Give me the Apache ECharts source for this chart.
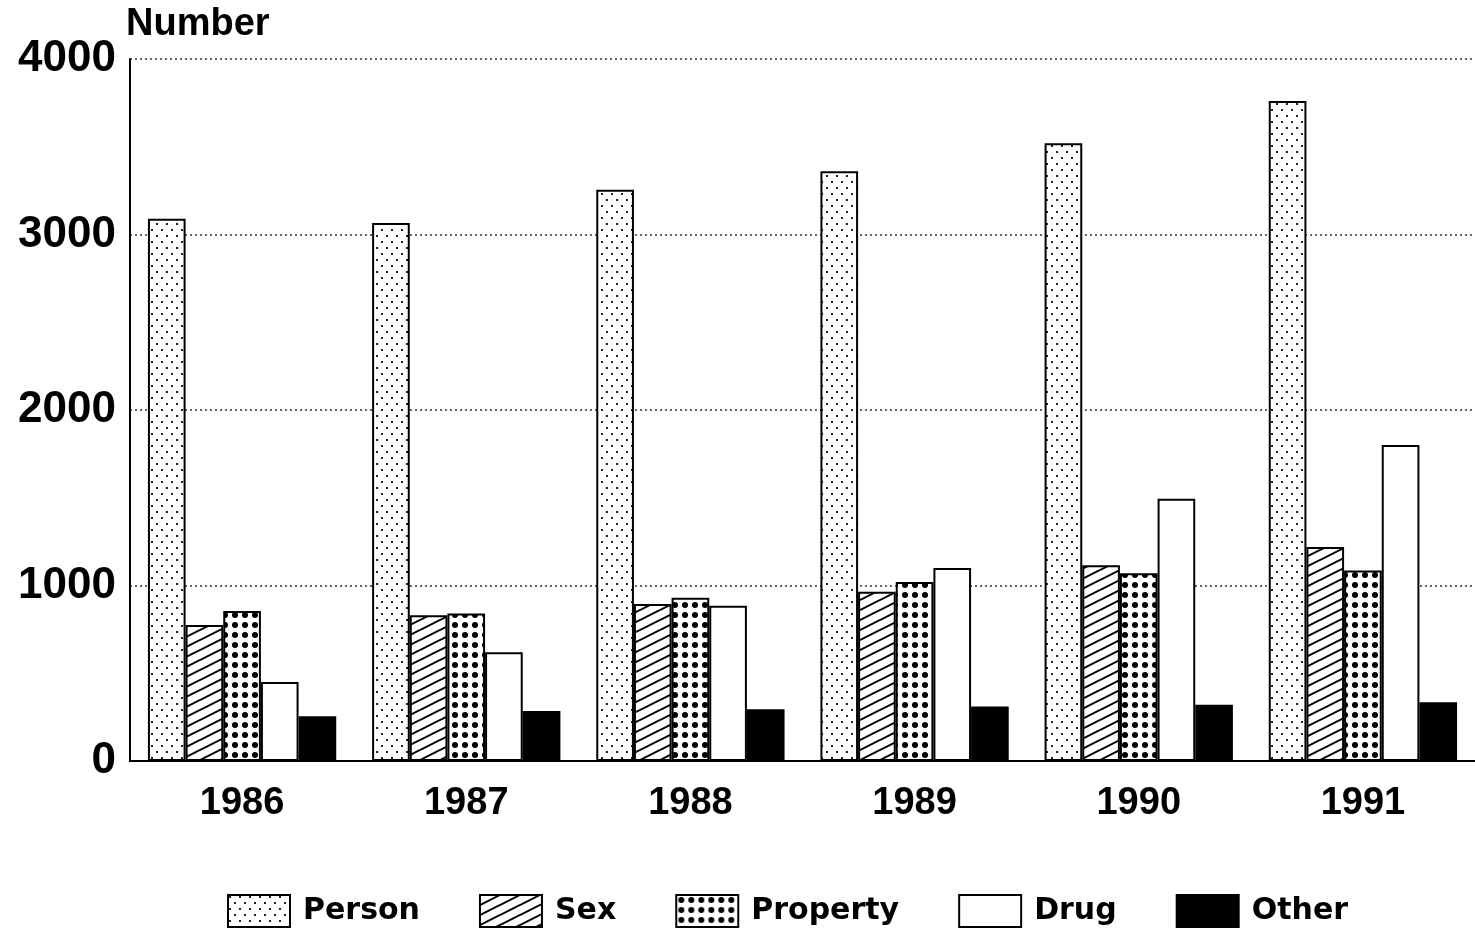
<!DOCTYPE html>
<html><head><meta charset="utf-8">
<script src="https://cdn.jsdelivr.net/npm/echarts@6/dist/echarts.min.js"></script>
<style>html,body{margin:0;padding:0;background:#fff}#c{width:1475px;height:933px}</style>
</head><body><div id="c"></div>
<script>
const categories = ['1986','1987','1988','1989','1990','1991'];
const person   = [3090, 3065, 3255, 3360, 3520, 3760];
const sex      = [775, 830, 895, 965, 1115, 1220];
const property = [855, 840, 930, 1020, 1070, 1085];
const drug     = [450, 620, 885, 1100, 1495, 1800];
const other    = [255, 285, 295, 310, 320, 335];
const seriesNames = ['Person','Sex','Property','Drug','Other'];
const yTicks = [0, 1000, 2000, 3000, 4000];

function tile(w, h, draw) {
  const c = document.createElement('canvas'); c.width = w; c.height = h;
  const g = c.getContext('2d'); g.fillStyle = '#fff'; g.fillRect(0,0,w,h);
  draw(g); return c;
}
const personPat = tile(10, 12, g => {
  g.fillStyle = '#222';
  g.fillRect(1,1,2,2); g.fillRect(6,7,2,2);
});
const sexPat = tile(20, 10, g => {
  g.strokeStyle = '#000'; g.lineWidth = 2;
  for (const k of [0,1,2]) { g.beginPath(); g.moveTo(-2, 10*k + 1); g.lineTo(22, 10*k - 11); g.stroke(); }
});
const propPat = tile(10, 10, g => {
  g.fillStyle = '#000'; g.beginPath(); g.arc(5,5,3,0,Math.PI*2); g.fill();
});
const fills = [
  {image: personPat, repeat: 'repeat'},
  {image: sexPat, repeat: 'repeat'},
  {image: propPat, repeat: 'repeat'},
  '#ffffff',
  '#000000'
];
const data = [person, sex, property, drug, other];

const chart = echarts.init(document.getElementById('c'));
chart.setOption({
  backgroundColor: '#fff',
  animation: false,
  grid: {left: 130, top: 59, width: 1352, height: 702, containLabel: false},
  legend: {
    bottom: 0, left: 222, icon: 'rect',
    itemWidth: 62, itemHeight: 32, itemGap: 59,
    textStyle: {fontFamily: 'DejaVu Sans', fontWeight: 'bold', fontSize: 30, color: '#000', padding: [0,0,0,8]},
    data: seriesNames
  },
  xAxis: {
    type: 'category', data: categories,
    axisLine: {lineStyle: {color: '#000', width: 2}},
    axisTick: {show: false},
    axisLabel: {fontFamily: 'Liberation Sans', fontWeight: 'bold', fontSize: 38, color: '#000', margin: 24}
  },
  yAxis: {
    type: 'value', min: 0, max: 4000, interval: 1000,
    name: 'Number', nameLocation: 'end', nameGap: 15,
    nameTextStyle: {fontFamily: 'Liberation Sans', fontWeight: 'bold', fontSize: 38, color: '#000', align: 'left', padding: [0,0,0,-4]},
    axisLine: {show: true, lineStyle: {color: '#000', width: 2}},
    axisTick: {show: false},
    axisLabel: {fontFamily: 'Liberation Sans', fontWeight: 'bold', fontSize: 44, color: '#000', margin: 14,
      formatter: v => yTicks.includes(v) ? String(v) : ''},
    splitLine: {lineStyle: {color: '#333', type: [2,3], width: 1.5}}
  },
  series: seriesNames.map((n, i) => ({
    name: n, type: 'bar', data: data[i],
    barGap: '0%', barCategoryGap: '16%',
    itemStyle: {color: fills[i], borderColor: '#000', borderWidth: 2}
  }))
});
</script></body></html>
